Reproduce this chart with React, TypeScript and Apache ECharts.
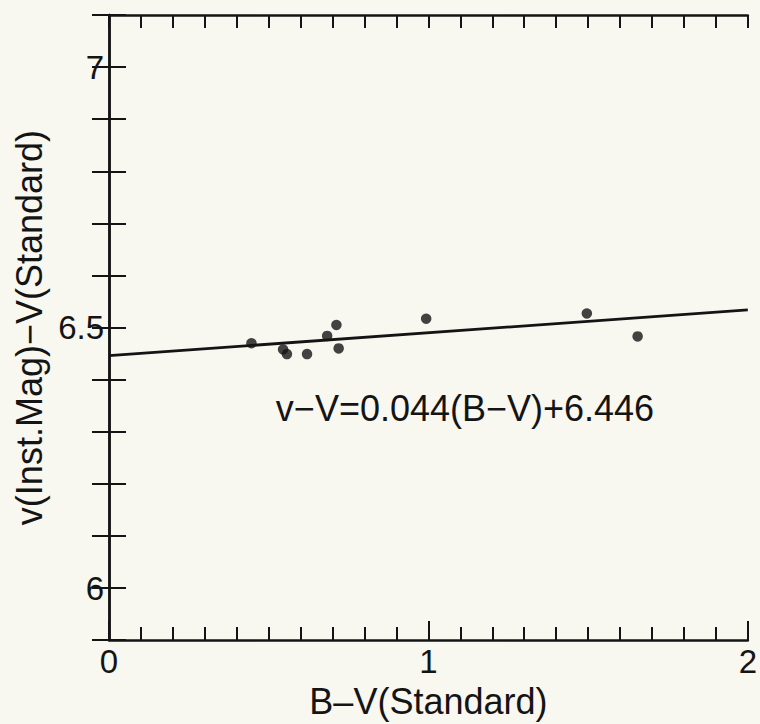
import React, { useEffect, useRef } from "react";
import * as echarts from "echarts";

// B-V (Standard) colour of each comparison star
const bvStandard = [0.446, 0.545, 0.557, 0.62, 0.683, 0.712, 0.719, 0.993, 1.496, 1.655];
// v(Inst.Mag) - V(Standard)
const instMinusStandard = [6.47, 6.458, 6.449, 6.449, 6.484, 6.505, 6.46, 6.517, 6.527, 6.483];
// fitted relation printed on the chart
const fitSlope = 0.044;
const fitIntercept = 6.446;
const fitX = [0, 2];
const xTickLabels = [0, 1, 2];
const yTickLabels = [6, 6.5, 7];
const equationText = "v\u2212V=0.044(B\u2212V)+6.446";

const FONT = "'Liberation Sans', Arial, Helvetica, sans-serif";
const INK = "#141414";

export default function App() {
  const ref = useRef<HTMLDivElement>(null);
  useEffect(() => {
    document.body.style.margin = "0";
    if (!ref.current) return;
    const chart = echarts.init(ref.current, undefined, { renderer: "svg" });
    const matchLabel = (v: number, list: number[]) => {
      const hit = list.find((t) => Math.abs(t - v) < 1e-6);
      return hit === undefined ? "" : String(hit);
    };
    const lineStyle = { color: INK, width: 2.5 };
    const tickStyle = { color: INK, width: 2 };
    const baseX = {
      type: "value" as const,
      min: 0,
      max: 2,
      splitLine: { show: false },
    };
    const baseY = {
      type: "value" as const,
      min: 5.9,
      max: 7.1,
      interval: 0.1,
      splitLine: { show: false },
    };
    chart.setOption({
      animation: false,
      backgroundColor: "#f8f7f0",
      grid: { left: 109, right: 11, top: 15, bottom: 75, containLabel: false },
      xAxis: [
        {
          ...baseX,
          position: "bottom",
          interval: 1,
          axisLine: { show: true, lineStyle },
          axisTick: { show: true, inside: true, length: 19, lineStyle: tickStyle },
          axisLabel: {
            show: true,
            fontSize: 33,
            color: INK,
            fontFamily: FONT,
            margin: 5,
            formatter: (v: number) => matchLabel(v, xTickLabels),
          },
          name: "B\u2013V(Standard)",
          nameLocation: "middle",
          nameGap: 37,
          nameTextStyle: { fontSize: 36, color: INK, fontFamily: FONT },
        },
        {
          ...baseX,
          position: "bottom",
          interval: 0.1,
          axisLine: { show: false },
          axisTick: { show: true, inside: true, length: 13, lineStyle: tickStyle },
          axisLabel: { show: false },
        },
        {
          ...baseX,
          position: "top",
          interval: 0.1,
          axisLine: { show: true, lineStyle },
          axisTick: { show: true, inside: true, length: 13, lineStyle: tickStyle },
          axisLabel: { show: false },
        },
      ],
      yAxis: [
        {
          ...baseY,
          position: "left",
          axisLine: { show: true, lineStyle },
          axisTick: { show: true, inside: true, length: 17, lineStyle: tickStyle },
          axisLabel: {
            show: true,
            fontSize: 33,
            color: INK,
            fontFamily: FONT,
            margin: 5,
            formatter: (v: number) => matchLabel(v, yTickLabels),
          },
          name: "v(Inst.Mag)\u2212V(Standard)",
          nameLocation: "middle",
          nameGap: 48,
          nameTextStyle: { fontSize: 36, color: INK, fontFamily: FONT },
        },
        {
          ...baseY,
          position: "right",
          axisLine: { show: true, lineStyle },
          axisTick: { show: true, inside: true, length: 17, lineStyle: tickStyle },
          axisLabel: { show: false },
        },
      ],
      series: [
        {
          type: "line",
          xAxisIndex: 0,
          yAxisIndex: 0,
          data: fitX.map((x) => [x, fitIntercept + fitSlope * x]),
          showSymbol: false,
          symbol: "none",
          lineStyle: { color: INK, width: 2.8 },
          silent: true,
        },
        {
          type: "scatter",
          xAxisIndex: 0,
          yAxisIndex: 0,
          data: bvStandard.map((x, i) => [x, instMinusStandard[i]]),
          symbol: "circle",
          symbolSize: 10.5,
          itemStyle: { color: INK },
        },
      ],
      graphic: [
        {
          type: "text",
          x: 465,
          y: 408,
          style: {
            text: equationText,
            fontSize: 36,
            fontFamily: FONT,
            fill: INK,
            align: "center",
            verticalAlign: "middle",
          },
        },
      ],
    });
    return () => chart.dispose();
  }, []);
  return (
    <div
      ref={ref}
      style={{ position: "fixed", left: 0, top: 0, width: 760, height: 724, background: "#f8f7f0" }}
    />
  );
}
